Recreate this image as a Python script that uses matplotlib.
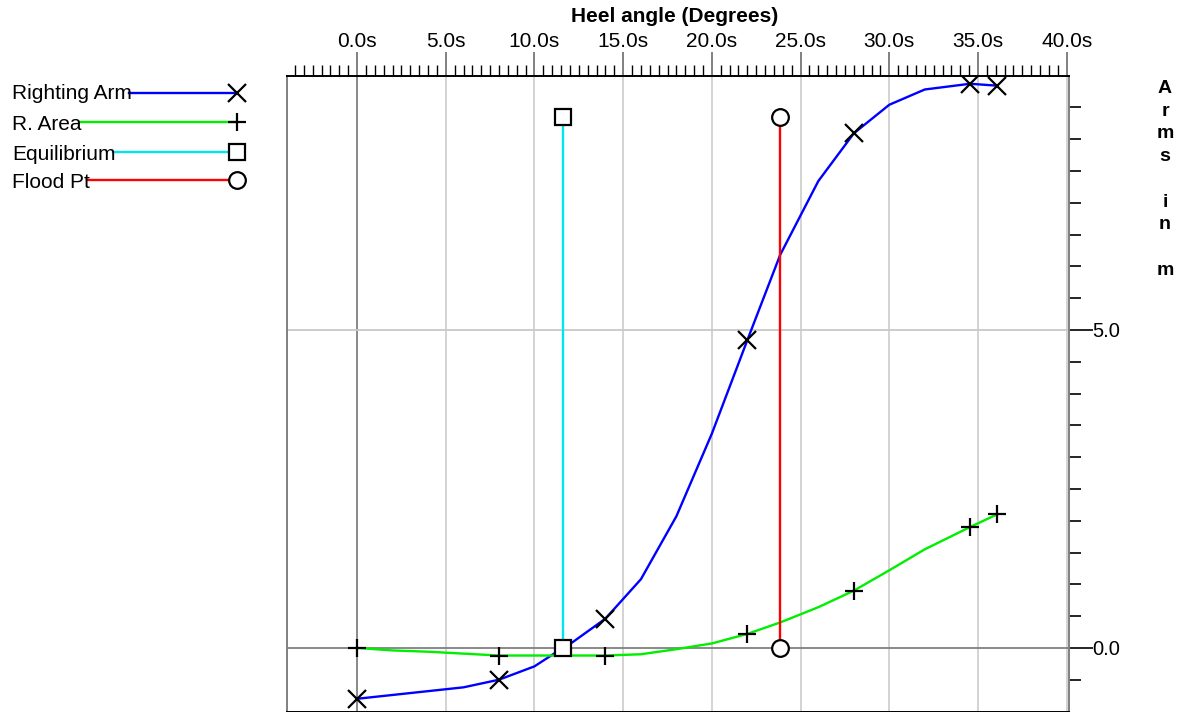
import matplotlib
matplotlib.use('Agg')
import matplotlib.pyplot as plt
from matplotlib.ticker import MultipleLocator, FixedLocator, FuncFormatter

plt.rcParams['font.family'] = ['Liberation Sans', 'DejaVu Sans']

# ---- data ----
heel = [0, 2, 4, 6, 8, 10, 11.6, 12, 14, 16, 18, 20, 22, 23.85, 26, 28, 30, 32, 34.55, 36.08]
righting_arm = [-0.80, -0.74, -0.68, -0.62, -0.50, -0.29, 0.0, 0.06, 0.46, 1.08, 2.07, 3.37,
                4.84, 6.18, 7.34, 8.09, 8.54, 8.78, 8.87, 8.84]
r_area = [0.0, -0.04, -0.06, -0.09, -0.12, -0.12, -0.12, -0.12, -0.12, -0.10, -0.02, 0.07,
          0.22, 0.40, 0.64, 0.90, 1.22, 1.55, 1.90, 2.10]
marker_angles = [0, 8, 14, 22, 28, 34.55, 36.08]
equilibrium_angle = 11.6
flood_angle = 23.85
vline_range = [0.0, 8.34]
x_major_ticks = [0, 5, 10, 15, 20, 25, 30, 35, 40]
y_major_ticks = [0.0, 5.0]
legend_labels = ['Righting Arm', 'R. Area', 'Equilibrium', 'Flood Pt']

W, H = 1187, 712
fig = plt.figure(figsize=(W / 100, H / 100), dpi=100)
ax = fig.add_axes([287 / W, 1 - 711.5 / H, (1069 - 287) / W, (711.5 - 75.5) / H])

ax.set_xlim(-3.95, 40.13)
ax.set_ylim(-1.0, 9.0)

idx = [heel.index(a) for a in marker_angles]

# grid
for xv in x_major_ticks:
    ax.axvline(xv, color='#808080' if xv == 0 else '#d0d0d0', lw=1.3, zorder=1)
for yv in y_major_ticks:
    ax.axhline(yv, color='#808080' if yv == 0 else '#c8c8c8', lw=1.3, zorder=1)

# curves
ax.plot(heel, righting_arm, color='#0000ff', lw=1.7, zorder=3)
ax.plot(heel, r_area, color='#00ee00', lw=1.7, zorder=3)
ax.plot(heel, righting_arm, ls='none', marker='x', markevery=idx, color='black',
        ms=13, mew=1.6, zorder=5)
ax.plot(heel, r_area, ls='none', marker='+', markevery=idx, color='black',
        ms=12.5, mew=1.6, zorder=5)

# equilibrium / flood point verticals
ax.plot([equilibrium_angle] * 2, vline_range, color='#00e5ee', lw=1.7, zorder=4)
ax.plot([equilibrium_angle] * 2, vline_range, ls='none', marker='s', mfc='white',
        mec='black', ms=12, mew=1.6, zorder=6)
ax.plot([flood_angle] * 2, vline_range, color='#ff0000', lw=1.7, zorder=4)
ax.plot([flood_angle] * 2, vline_range, ls='none', marker='o', mfc='white',
        mec='black', ms=12, mew=1.6, zorder=6)

# axes styling
ax.xaxis.tick_top()
ax.xaxis.set_major_locator(FixedLocator(x_major_ticks))
ax.xaxis.set_minor_locator(MultipleLocator(0.5))
ax.xaxis.set_major_formatter(FuncFormatter(lambda v, p: f"{v:.1f}s"))
ax.tick_params(axis='x', which='major', length=17.5, width=1.4, color='#808080',
               labelsize=15, pad=0, labelcolor='black')
ax.tick_params(axis='x', which='minor', length=8, width=1.0, color='black')

ax.yaxis.tick_right()
ax.yaxis.set_major_locator(FixedLocator(y_major_ticks))
ax.yaxis.set_minor_locator(FixedLocator([v / 2 for v in range(-1, 18) if v % 10 != 0]))
ax.yaxis.set_major_formatter(FuncFormatter(lambda v, p: f"{v:.1f}"))
ax.tick_params(axis='y', which='major', length=17, width=1.2, color='black',
               labelsize=14.5, pad=0)
ax.tick_params(axis='y', which='minor', length=8.5, width=1.2, color='black')

for side in ['left', 'right']:
    ax.spines[side].set_color('#808080')
    ax.spines[side].set_linewidth(1.4)
for side in ['top', 'bottom']:
    ax.spines[side].set_color('black')
    ax.spines[side].set_linewidth(1.4)

fig.text(675 / W, 1 - 17 / H, 'Heel angle (Degrees)', ha='center', va='center',
         fontsize=15, fontweight='bold')
fig.text(1165 / W, 1 - 80 / H, '\n'.join(list('Arms') + [''] + list('in') + [''] + ['m']),
         ha='center', va='top', fontsize=14, fontweight='bold', linespacing=1.44,
         multialignment='center')

# manual legend on an overlay axis in pixel units
lax = fig.add_axes([0, 0, 1, 1], zorder=10)
lax.set_xlim(0, W)
lax.set_ylim(H, 0)
lax.axis('off')
lax.patch.set_alpha(0)
renderer = fig.canvas.get_renderer()
styles = [
    dict(color='#0000ff', marker='x', mfc='black', mec='black', ms=13),
    dict(color='#00ee00', marker='+', mfc='black', mec='black', ms=12.5),
    dict(color='#00e5ee', marker='s', mfc='white', mec='black', ms=12),
    dict(color='#ff0000', marker='o', mfc='white', mec='black', ms=12),
]
baselines = [99, 129.5, 159.5, 188]
line_y = [93, 122, 152, 180]
for lab, st, bl, ly in zip(legend_labels, styles, baselines, line_y):
    t = lax.text(12, bl, lab, fontsize=15, ha='left', va='baseline')
    bb = t.get_window_extent(renderer)
    x_end = bb.x1 - 3
    lax.plot([x_end, 237], [ly, ly], color=st['color'], lw=1.7)
    lax.plot([237], [ly], ls='none', marker=st['marker'], mfc=st['mfc'], mec=st['mec'],
             ms=st['ms'], mew=1.6)

fig.savefig('out.png', dpi=100)
